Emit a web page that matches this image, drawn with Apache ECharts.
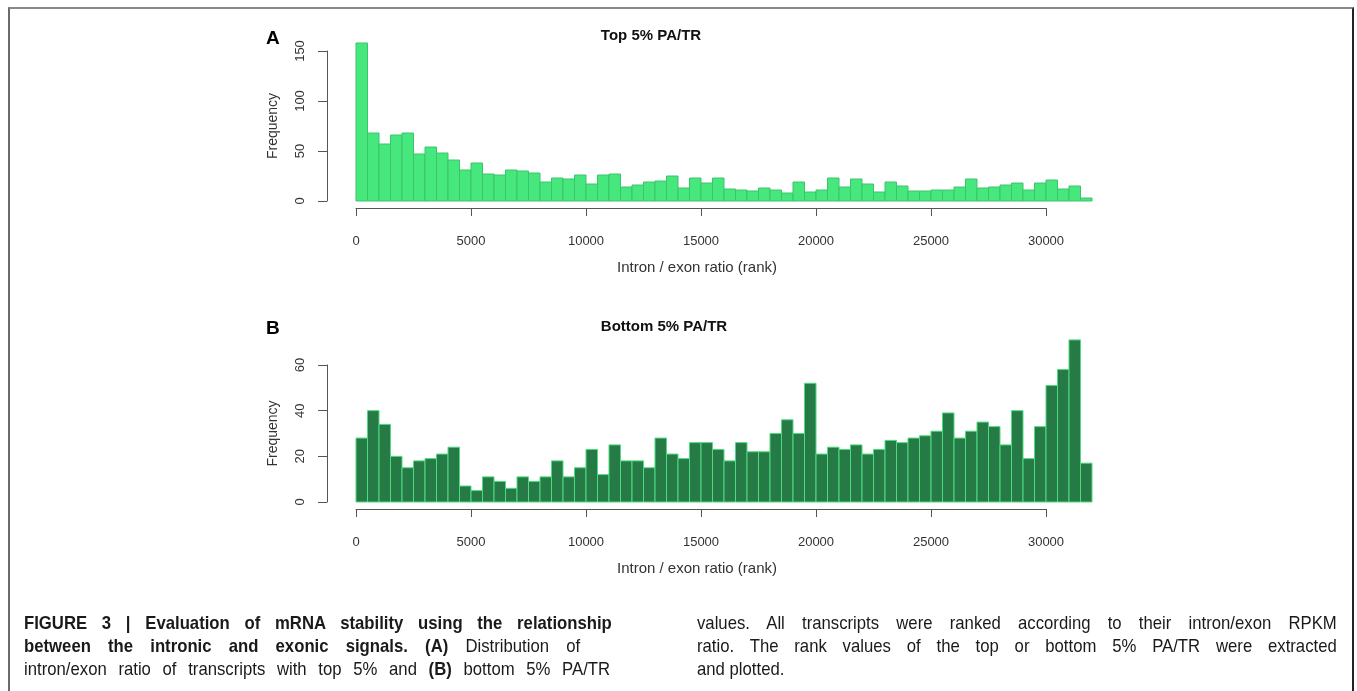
<!DOCTYPE html>
<html>
<head>
<meta charset="utf-8">
<script src="https://cdn.jsdelivr.net/npm/echarts@6/dist/echarts.min.js"></script>
<style>
  html, body { margin:0; padding:0; background:#fff; width:1357px; height:691px; overflow:hidden; }
  #chart { position:absolute; left:0; top:0; width:1357px; height:691px; }
  #frame { position:absolute; left:8px; top:7px; width:1342px; height:700px;
           border-top:2px solid #8a8a8a; border-left:2px solid #6a6a6a; border-right:2px solid #222; }
  .cap { position:absolute; font-family:"Liberation Sans",Arial,sans-serif;
         font-size:19px; line-height:23px; color:#1a1a1a; transform:scaleX(0.88); transform-origin:0 0; }
  .cap div { text-align:justify; text-align-last:justify; white-space:nowrap; }
  .cap div.l { text-align-last:left; }
</style>
</head>
<body>
<div id="chart"></div>
<div id="frame"></div>
<div class="cap" style="left:24px; top:611px; width:668px;">
  <div><b>FIGURE 3 | Evaluation of mRNA stability using the relationship</b></div>
  <div style="width:632px"><b>between the intronic and exonic signals. (A)</b> Distribution of</div>
  <div style="width:666px">intron/exon ratio of transcripts with top 5% and <b>(B)</b> bottom 5% PA/TR</div>
</div>
<div class="cap" style="left:697px; top:611px; width:727px;">
  <div>values. All transcripts were ranked according to their intron/exon RPKM</div>
  <div>ratio. The rank values of the top or bottom 5% PA/TR were extracted</div>
  <div class="l">and plotted.</div>
</div>
<script>
// ---- data ----
const binWidth = 500;
const xTicks = [0, 5000, 10000, 15000, 20000, 25000, 30000];
const topTitle = 'Top 5% PA/TR';
const bottomTitle = 'Bottom 5% PA/TR';
const xName = 'Intron / exon ratio (rank)';
const yName = 'Frequency';
const topCounts = [158,68,57,66,68,47,54,48,41,31,38,27,26,31,30,28,19,23,22,26,17,26,27,14,16,19,20,25,13,23,18,23,12,11,10,13,11,8,19,9,11,23,14,22,17,9,19,15,10,10,11,11,14,22,13,14,16,18,11,18,21,12,15,3];
const bottomCounts = [28,40,34,20,15,18,19,21,24,7,5,11,9,6,11,9,11,18,11,15,23,12,25,18,18,15,28,21,19,26,26,23,18,26,22,22,30,36,30,52,21,24,23,25,21,23,27,26,28,29,31,39,28,31,35,33,25,40,19,33,51,58,71,17];

function toBins(counts) {
  return counts.map((c, i) => [i * binWidth, (i + 1) * binWidth, c]);
}

function histRender(fill, stroke) {
  return function (params, api) {
    const p0 = api.coord([api.value(0), api.value(2)]);
    const p1 = api.coord([api.value(1), 0]);
    return {
      type: 'rect',
      shape: { x: p0[0], y: p0[1], width: p1[0] - p0[0], height: p1[1] - p0[1] },
      style: { fill: fill, stroke: stroke, lineWidth: 1 }
    };
  };
}

const FONT = '"Liberation Sans", Arial, sans-serif';
const axisCol = '#555';

function xAxisCfg(idx) {
  return {
    type: 'value', gridIndex: idx, min: xTicks[0], max: xTicks[xTicks.length - 1], interval: xTicks[1] - xTicks[0],
    offset: 7, position: 'bottom',
    splitLine: { show: false },
    axisLine: { show: true, onZero: false, lineStyle: { color: axisCol, width: 1 } },
    axisTick: { show: true, length: 8, lineStyle: { color: axisCol } },
    axisLabel: { margin: 27, color: '#333', fontSize: 13, fontFamily: FONT, formatter: v => String(v) },
    name: xName, nameLocation: 'middle', nameGap: 52,
    nameTextStyle: { color: '#333', fontSize: 15, fontFamily: FONT, padding: [0, 8, 0, 0] }
  };
}
function yAxisCfg(idx, max, interval) {
  return {
    type: 'value', gridIndex: idx, min: 0, max: max, interval: interval,
    offset: 29,
    splitLine: { show: false },
    axisLine: { show: true, onZero: false, lineStyle: { color: axisCol, width: 1 } },
    axisTick: { show: true, length: 9, lineStyle: { color: axisCol } },
    axisLabel: { rotate: 90, margin: 20, color: '#333', fontSize: 13, fontFamily: FONT },
    name: yName, nameLocation: 'middle', nameGap: 47, nameRotate: 90,
    nameTextStyle: { color: '#333', fontSize: 14, fontFamily: FONT }
  };
}

const chart = echarts.init(document.getElementById('chart'), null, { renderer: 'canvas' });
chart.setOption({
  animation: false,
  backgroundColor: '#fff',
  grid: [
    { left: 356, top: 51, width: 690, height: 150 },
    { left: 356, top: 365, width: 690, height: 137 }
  ],
  xAxis: [xAxisCfg(0), xAxisCfg(1)],
  yAxis: [yAxisCfg(0, 150, 50), yAxisCfg(1, 60, 20)],
  graphic: [
    { type: 'text', x: 651, y: 36, style: { text: topTitle, font: 'bold 15px ' + FONT, fill: '#111', align: 'center', verticalAlign: 'middle' } },
    { type: 'text', x: 664, y: 327, style: { text: bottomTitle, font: 'bold 15px ' + FONT, fill: '#111', align: 'center', verticalAlign: 'middle' } },
    { type: 'text', x: 266, y: 39, style: { text: 'A', font: 'bold 19px ' + FONT, fill: '#000', verticalAlign: 'middle' } },
    { type: 'text', x: 266, y: 329, style: { text: 'B', font: 'bold 19px ' + FONT, fill: '#000', verticalAlign: 'middle' } }
  ],
  series: [
    { type: 'custom', xAxisIndex: 0, yAxisIndex: 0, clip: false, renderItem: histRender('#46e87d', '#3cc46b'), data: toBins(topCounts) },
    { type: 'custom', xAxisIndex: 1, yAxisIndex: 1, clip: false, renderItem: histRender('#267a46', '#4ddb7f'), data: toBins(bottomCounts) }
  ]
});
</script>
</body>
</html>
